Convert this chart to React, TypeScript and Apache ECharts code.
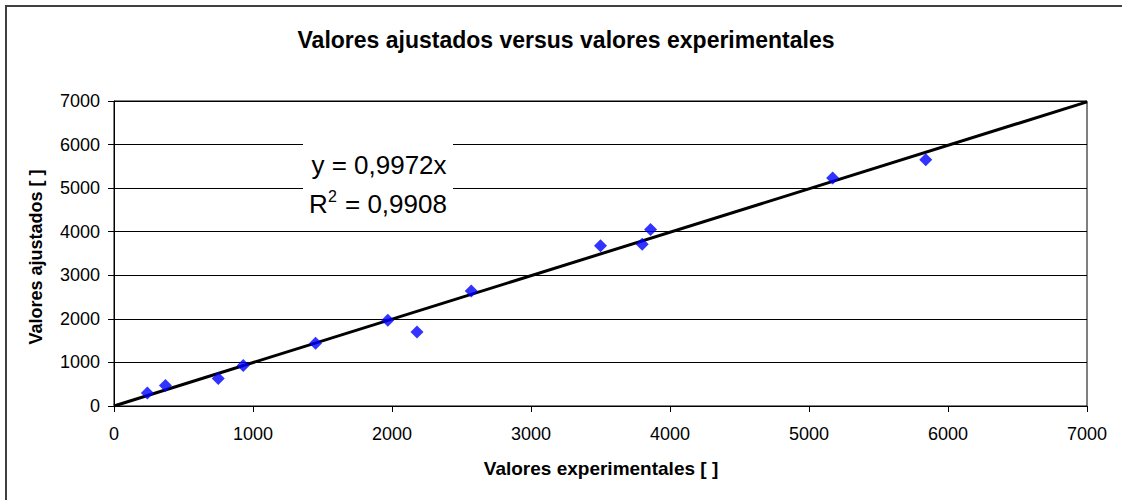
import React, { useEffect, useRef } from "react";
import * as echarts from "echarts";

const expX = [240, 370, 750, 930, 1450, 1970, 2180, 2570, 3500, 3800, 3860, 5170, 5840];
const adjY = [300, 470, 630, 930, 1440, 1970, 1700, 2640, 3680, 3710, 4050, 5230, 5650];
const trendX = [0, 7000];
const trendY = [0, 6980];
const axisTicks = [0, 1000, 2000, 3000, 4000, 5000, 6000, 7000];

const titleText = "Valores ajustados versus valores experimentales";
const xName = "Valores experimentales [ ]";
const yName = "Valores ajustados [ ]";
const eqLine = "y = 0,9972x";
const r2Rest = "= 0,9908";

const FONT = "'Liberation Sans', Arial, sans-serif";

export default function App() {
  const ref = useRef<HTMLDivElement>(null);
  useEffect(() => {
    document.body.style.margin = "0";
    const chart = echarts.init(ref.current!, undefined, { renderer: "svg" });
    const points = expX.map((x, i) => [x, adjY[i]]);
    const trend = trendX.map((x, i) => [x, trendY[i]]);
    const fmt = (v: number) => String(v);
    chart.setOption({
      animation: false,
      backgroundColor: "#fff",
      textStyle: { fontFamily: FONT },
      grid: {
        left: 114,
        right: 35,
        top: 101,
        bottom: 94,
        show: true,
        borderColor: "#000",
        borderWidth: 1,
      },
      xAxis: {
        type: "value",
        min: axisTicks[0],
        max: axisTicks[axisTicks.length - 1],
        interval: 1000,
        axisLine: { lineStyle: { color: "#000", width: 1 } },
        axisTick: { show: true, inside: false, length: 6, lineStyle: { color: "#000" } },
        axisLabel: { color: "#000", fontSize: 18, margin: 19, fontFamily: FONT, formatter: fmt },
        splitLine: { show: false },
      },
      yAxis: {
        type: "value",
        min: axisTicks[0],
        max: axisTicks[axisTicks.length - 1],
        interval: 1000,
        axisLine: { show: true, lineStyle: { color: "#000", width: 1 } },
        axisTick: { show: true, inside: false, length: 6, lineStyle: { color: "#000" } },
        axisLabel: { color: "#000", fontSize: 18, margin: 14, fontFamily: FONT, formatter: fmt },
        splitLine: { show: true, lineStyle: { color: "#000", width: 1 } },
      },
      series: [
        {
          type: "line",
          data: trend,
          symbol: "none",
          lineStyle: { color: "#000", width: 3 },
          z: 2,
        },
        {
          type: "scatter",
          data: points,
          symbol: "diamond",
          symbolSize: 13,
          itemStyle: { color: "#0000FF" },
          z: 3,
        },
      ],
      graphic: [
        {
          type: "rect",
          shape: { x: 6, y: 6, width: 1140, height: 520 },
          style: { fill: "none", stroke: "#404040", lineWidth: 2 },
          silent: true,
        },
        {
          type: "text",
          x: 566,
          y: 40,
          style: {
            text: titleText,
            font: `bold 23px ${FONT}`,
            fill: "#000",
            align: "center",
            verticalAlign: "middle",
          },
        },
        {
          type: "text",
          x: 601,
          y: 468,
          style: {
            text: xName,
            font: `bold 19px ${FONT}`,
            fill: "#000",
            align: "center",
            verticalAlign: "middle",
          },
        },
        {
          type: "text",
          x: 36,
          y: 257,
          rotation: Math.PI / 2,
          style: {
            text: yName,
            font: `bold 18px ${FONT}`,
            fill: "#000",
            align: "center",
            verticalAlign: "middle",
          },
        },
        {
          type: "rect",
          shape: { x: 303, y: 139, width: 150, height: 84 },
          style: { fill: "#fff", stroke: "none" },
          z: 10,
        },
        {
          type: "text",
          x: 379,
          y: 165,
          z: 11,
          style: {
            text: eqLine,
            font: `26px ${FONT}`,
            fill: "#000",
            align: "center",
            verticalAlign: "middle",
          },
        },
        {
          type: "text",
          x: 309,
          y: 204,
          z: 11,
          style: {
            text: "R",
            font: `26px ${FONT}`,
            fill: "#000",
            align: "left",
            verticalAlign: "middle",
          },
        },
        {
          type: "text",
          x: 328,
          y: 196,
          z: 11,
          style: {
            text: "2",
            font: `16px ${FONT}`,
            fill: "#000",
            align: "left",
            verticalAlign: "middle",
          },
        },
        {
          type: "text",
          x: 345,
          y: 204,
          z: 11,
          style: {
            text: r2Rest,
            font: `26px ${FONT}`,
            fill: "#000",
            align: "left",
            verticalAlign: "middle",
          },
        },
      ],
    });
    return () => chart.dispose();
  }, []);
  return <div ref={ref} style={{ width: 1122, height: 500 }} />;
}
